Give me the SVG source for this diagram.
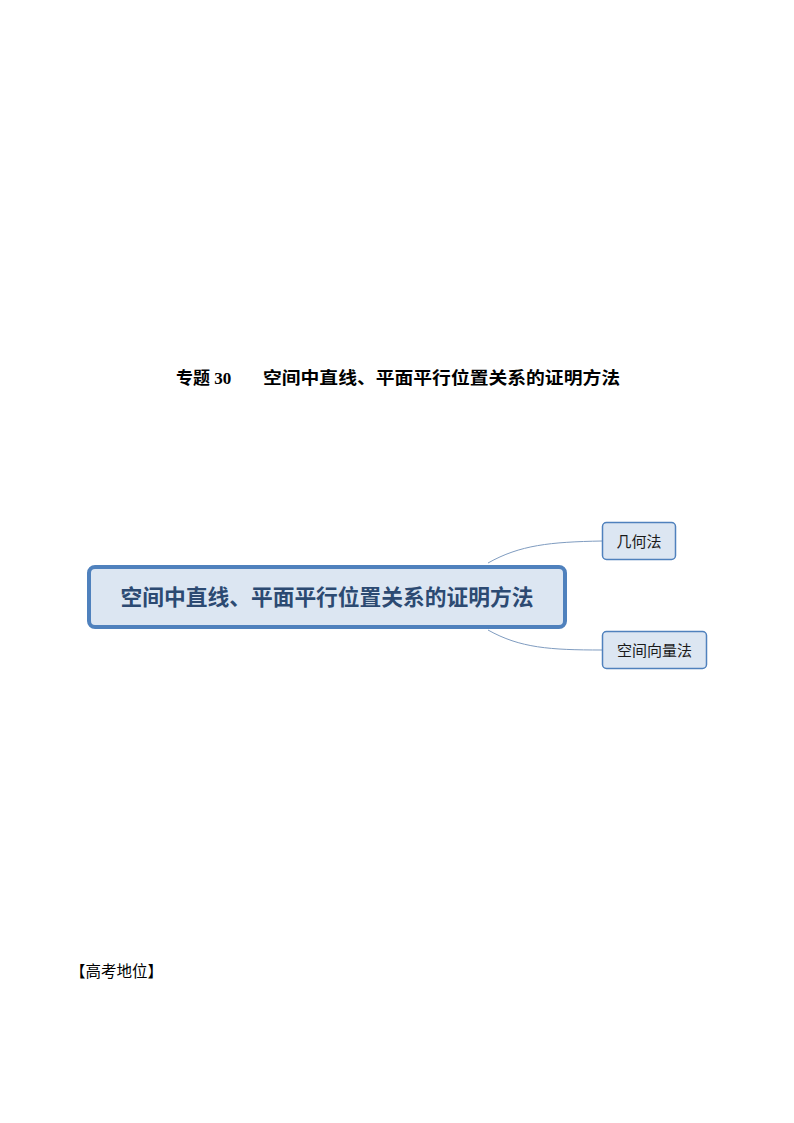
<svg xmlns="http://www.w3.org/2000/svg" width="794" height="1123" viewBox="0 0 794 1123">
<style>
.bg{fill:#ffffff}
.node rect{fill:#dce6f2;stroke:#4f81bd}
.main rect{stroke-width:4}
.sub rect{stroke-width:1.5}
.conn path{fill:none;stroke:#7f9cc0;stroke-width:1}
.cjk{font-family:"Noto Sans CJK SC","Noto Sans CJK JP",sans-serif}
.title{font-family:"Liberation Serif","Noto Sans CJK SC",serif;font-weight:bold;font-size:17px;fill:#000}
</style>
<rect class="bg" x="0" y="0" width="794" height="1123"/>
<text class="title" x="176" y="384">专题 30</text>
<text class="title" x="263" y="384" textLength="357" lengthAdjust="spacingAndGlyphs">空间中直线、平面平行位置关系的证明方法</text>
<g class="conn">
<path d="M488,563 C520,545 550,542 602,541"/>
<path d="M488,630 C520,648 550,650 602,650"/>
</g>
<g id="main" class="node main">
<rect x="89" y="567" width="476" height="60" rx="6" ry="6"/>
<text class="cjk" x="327" y="605" text-anchor="middle" font-size="22" font-weight="bold" fill="#2c4a72" textLength="413" lengthAdjust="spacingAndGlyphs">空间中直线、平面平行位置关系的证明方法</text>
</g>
<g id="n1" class="node sub">
<rect x="602.5" y="522.5" width="73" height="37" rx="4" ry="4"/>
<text class="cjk" x="639" y="547" text-anchor="middle" font-size="15" fill="#1a1a1a">几何法</text>
</g>
<g id="n2" class="node sub">
<rect x="602.5" y="631.5" width="104" height="37" rx="4" ry="4"/>
<text class="cjk" x="654.5" y="656" text-anchor="middle" font-size="15" fill="#1a1a1a">空间向量法</text>
</g>
<text class="cjk" x="70" y="977" font-size="15.5" fill="#000">【高考地位】</text>
</svg>
